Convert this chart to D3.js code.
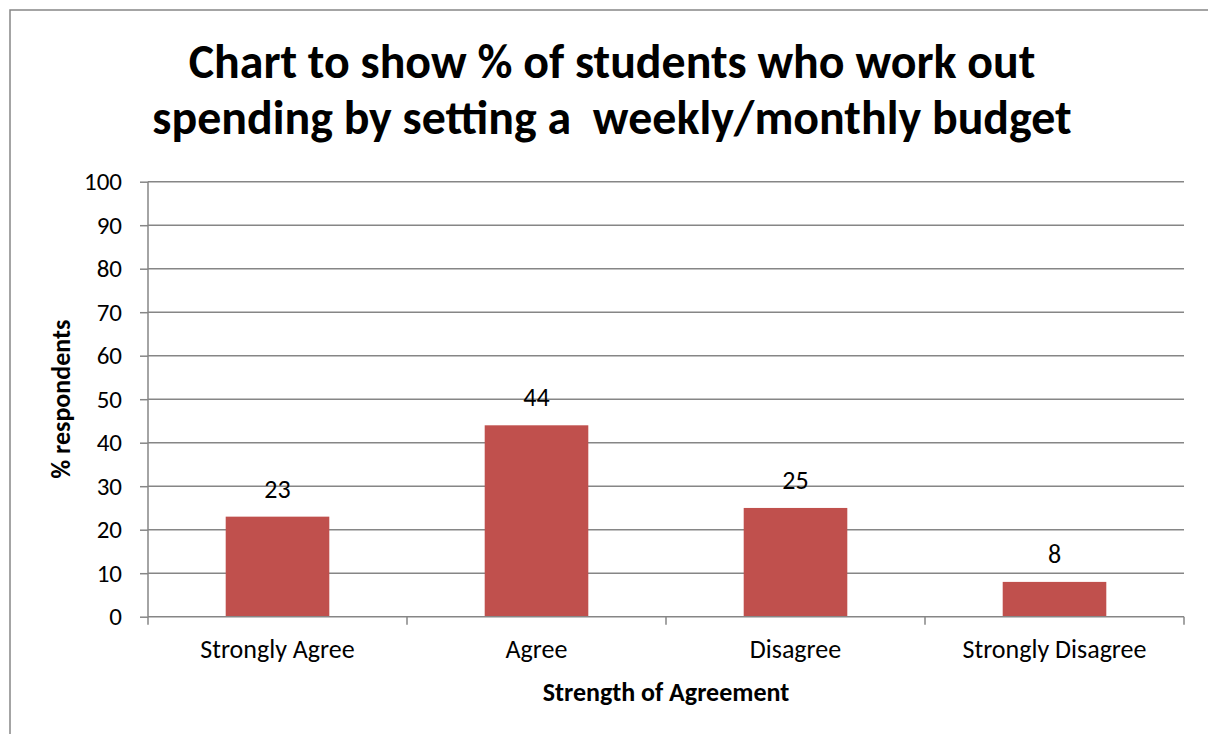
<!DOCTYPE html>
<html>
<head>
<meta charset="utf-8">
<script src="https://cdn.jsdelivr.net/npm/d3@7"></script>
<style>
  body { margin: 0; background: #fff; }
  svg { display: block; font-family: Calibri, Carlito, Lato, sans-serif; }
</style>
</head>
<body>
<svg width="1208" height="734"></svg>
<script>
// data
const categories = ['Strongly Agree', 'Agree', 'Disagree', 'Strongly Disagree'];
const values = [23, 44, 25, 8];
const yTicks = [0, 10, 20, 30, 40, 50, 60, 70, 80, 90, 100];
const titleLines = ['Chart to show % of students who work out', 'spending by setting a  weekly/monthly budget'];

const svg = d3.select('svg');
const GREY = '#868686';
const BAR = '#C0504D';

const plot = { left: 148, right: 1184, top: 181.7, bottom: 616.7 };

// outer frame (runs off the right and bottom of the picture)
svg.append('rect')
  .attr('x', 10).attr('y', 10)
  .attr('width', 1204).attr('height', 740)
  .attr('fill', 'none')
  .attr('stroke', GREY)
  .attr('stroke-width', 1.5);

const x = d3.scaleBand().domain(categories).range([plot.left, plot.right]).paddingInner(0.6).paddingOuter(0.3);
const y = d3.scaleLinear().domain([0, 100]).range([plot.bottom, plot.top]);

// gridlines
svg.append('g')
  .selectAll('line')
  .data(yTicks.slice(1))
  .join('line')
  .attr('x1', plot.left).attr('x2', plot.right)
  .attr('y1', (d) => y(d)).attr('y2', (d) => y(d))
  .attr('stroke', GREY)
  .attr('stroke-width', 1.5);

// bars
svg.append('g')
  .selectAll('rect')
  .data(values)
  .join('rect')
  .attr('x', (d, i) => x(categories[i]))
  .attr('y', (d) => y(d))
  .attr('width', x.bandwidth())
  .attr('height', (d) => y(0) - y(d))
  .attr('fill', BAR);

// value labels
svg.append('g')
  .selectAll('text')
  .data(values)
  .join('text')
  .attr('x', (d, i) => x(categories[i]) + x.bandwidth() / 2)
  .attr('y', (d) => y(d) - 19)
  .attr('text-anchor', 'middle')
  .style('font-size', '26px')
  .attr('fill', '#000')
  .text((d) => d);

// y axis
const yAxis = svg.append('g')
  .attr('transform', `translate(${plot.left},0)`)
  .call(d3.axisLeft(y).tickValues(yTicks).tickSize(8).tickPadding(18));
yAxis.select('.domain').attr('stroke', GREY).attr('stroke-width', 1.5).attr('d', `M0,${plot.top}V${plot.bottom}`);
yAxis.selectAll('.tick line').attr('stroke', GREY).attr('stroke-width', 1.5);
yAxis.selectAll('.tick text')
  .style('font-size', '25px')
  .style('font-family', 'Calibri, Carlito, Lato, sans-serif')
  .attr('fill', '#000');

// x axis: ticks sit on the band edges
const edges = categories.map((c) => x(c) - x.step() * x.paddingInner() / 2).concat([plot.right]);
const xAxis = svg.append('g');
xAxis.append('line')
  .attr('x1', plot.left).attr('x2', plot.right)
  .attr('y1', plot.bottom).attr('y2', plot.bottom)
  .attr('stroke', GREY).attr('stroke-width', 1.5);
xAxis.selectAll('.edge')
  .data(edges)
  .join('line')
  .attr('class', 'edge')
  .attr('x1', (d) => d).attr('x2', (d) => d)
  .attr('y1', plot.bottom).attr('y2', plot.bottom + 8)
  .attr('stroke', GREY).attr('stroke-width', 1.5);
xAxis.selectAll('.cat')
  .data(categories)
  .join('text')
  .attr('class', 'cat')
  .attr('x', (d) => x(d) + x.bandwidth() / 2)
  .attr('y', 658)
  .attr('text-anchor', 'middle')
  .style('font-size', '26px')
  .text((d) => d);

// axis titles
svg.append('text')
  .attr('x', (plot.left + plot.right) / 2)
  .attr('y', 701)
  .attr('text-anchor', 'middle')
  .style('font-size', '26px')
  .style('font-weight', 'bold')
  .text('Strength of Agreement');

svg.append('text')
  .attr('transform', `translate(70,${(plot.top + plot.bottom) / 2}) rotate(-90)`)
  .attr('text-anchor', 'middle')
  .style('font-size', '26px')
  .style('font-weight', 'bold')
  .text('% respondents');

// title, scaled so the second line spans the same width as the reference
const title = svg.append('g');
const t = title.selectAll('text')
  .data(titleLines)
  .join('text')
  .attr('x', 612)
  .attr('y', (d, i) => 78 + i * 56)
  .attr('text-anchor', 'middle')
  .style('font-size', '40px')
  .style('font-weight', 'bold')
  .style('white-space', 'pre')
  .attr('xml:space', 'preserve')
  .text((d) => d);
const w = t.nodes()[1].getComputedTextLength();
t.style('font-size', (40 * 920 / w).toFixed(1) + 'px');
</script>
</body>
</html>
